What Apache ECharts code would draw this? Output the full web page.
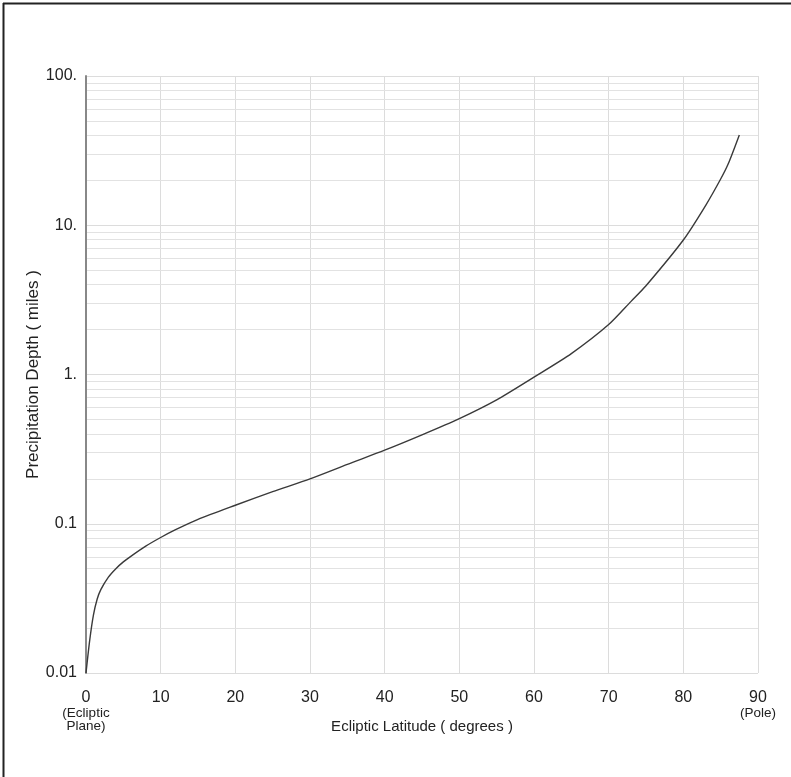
<!DOCTYPE html>
<html><head><meta charset="utf-8">
<script src="https://cdn.jsdelivr.net/npm/echarts@6/dist/echarts.min.js"></script>
<style>html,body{margin:0;padding:0;background:#fff}#c{width:791px;height:777px}</style>
</head><body><div id="c"></div>
<script>
// Data
const latitude = [0, 0.5, 1, 1.5, 2, 3, 4, 5, 6, 8, 10, 12, 15, 20, 25, 30, 35, 40, 45, 50, 55, 60, 65, 70, 73, 75, 80, 83, 85, 86, 87.5];
const depth = [0.01, 0.0166, 0.0245, 0.0313, 0.0363, 0.0439, 0.0500, 0.0555, 0.0605, 0.0708, 0.0809, 0.0912, 0.107, 0.133, 0.164, 0.200, 0.250, 0.311, 0.394, 0.506, 0.676, 0.96, 1.38, 2.16, 3.09, 3.93, 7.96, 13.6, 20.4, 25.7, 40.3];
const yTickLabels = {"0.01": "0.01", "0.1": "0.1", "1": "1.", "10": "10.", "100": "100."};
const xTickLabels = {"0": "{a|0}\n{b|(Ecliptic}\n{b|Plane)}", "90": "{a|90}\n{b|(Pole)}"};
const minorYLines = [0.02,0.03,0.04,0.05,0.06,0.07,0.08,0.09,
  0.2,0.3,0.4,0.5,0.6,0.7,0.8,0.9,
  2,3,4,5,6,7,8,9,
  20,30,40,50,60,70,80,90];

const FONT = '"Liberation Sans", Arial, sans-serif';
const chart = echarts.init(document.getElementById('c'), null, {renderer: 'canvas'});
chart.setOption({
  animation: false,
  backgroundColor: '#fff',
  textStyle: {fontFamily: FONT},
  grid: {left: 86, right: 33, top: 76, bottom: 104, containLabel: false},
  graphic: [
    {type: 'line', shape: {x1: 3.5, y1: 3, x2: 3.5, y2: 777}, style: {stroke: '#222', lineWidth: 2}},
    {type: 'line', shape: {x1: 3, y1: 3.5, x2: 791, y2: 3.5}, style: {stroke: '#222', lineWidth: 2}}
  ],
  xAxis: {
    type: 'value', min: 0, max: 90, interval: 10, z: 0,
    name: 'Ecliptic Latitude ( degrees )', nameLocation: 'middle', nameGap: 46,
    nameMoveOverlap: false,
    nameTextStyle: {fontSize: 15, color: '#222', fontFamily: FONT},
    axisLine: {show: false}, axisTick: {show: false},
    splitLine: {show: true, lineStyle: {color: '#dcdcdc', width: 1}},
    axisLabel: {
      margin: 16, color: '#222', fontSize: 16, fontFamily: FONT, lineHeight: 18,
      formatter: v => xTickLabels[String(v)] || ('{a|' + v + '}'),
      rich: {
        a: {fontSize: 16, color: '#222', fontFamily: FONT, lineHeight: 18},
        b: {fontSize: 13.5, color: '#222', fontFamily: FONT, lineHeight: 13}
      }
    }
  },
  yAxis: {
    type: 'log', logBase: 10, min: 0.01, max: 100, z: 3,
    name: 'Precipitation Depth ( miles )', nameLocation: 'middle', nameGap: 44,
    nameMoveOverlap: false,
    nameTextStyle: {fontSize: 17, color: '#222', fontFamily: FONT},
    axisLine: {show: true, lineStyle: {color: '#888', width: 2}},
    axisTick: {show: false},
    splitLine: {show: true, lineStyle: {color: '#dcdcdc', width: 1}},
    axisLabel: {
      margin: 9, color: '#222', fontSize: 16, fontFamily: FONT,
      formatter: v => yTickLabels[String(+v.toPrecision(6))] || String(v)
    }
  },
  series: [
    {
      type: 'line', data: [], z: 1, silent: true,
      markLine: {
        silent: true, symbol: 'none', label: {show: false}, z: 1,
        lineStyle: {color: '#e2e2e2', width: 1, type: 'solid'},
        emphasis: {disabled: true},
        data: minorYLines.map(v => ({yAxis: v}))
      }
    },
    {
      type: 'line', z: 6, smooth: 0.25, showSymbol: false,
      data: latitude.map((x, i) => [x, depth[i]]),
      lineStyle: {color: '#3a3a3a', width: 1.4}
    }
  ]
});
</script></body></html>
